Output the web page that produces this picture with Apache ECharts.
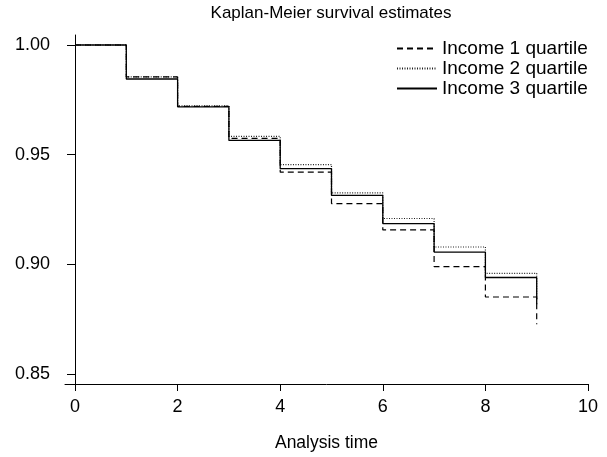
<!DOCTYPE html>
<html>
<head>
<meta charset="utf-8">
<script src="https://cdn.jsdelivr.net/npm/echarts@6/dist/echarts.min.js"></script>
<style>
  html, body { margin: 0; padding: 0; background: #fff; }
  #main { width: 607px; height: 457px; }
</style>
</head>
<body>
<div id="main"></div>
<script>
// analysis time (years) - each value holds from this time to the next
var times = [0, 1, 2, 3, 4, 5, 6, 7, 8, 9];
// survival estimates
var income1 = [1.000, 0.9855, 0.9720, 0.9574, 0.9420, 0.9277, 0.9157, 0.8990, 0.8851, 0.8727];
var income2 = [1.000, 0.9855, 0.9722, 0.9583, 0.9455, 0.9326, 0.9209, 0.9079, 0.8959, 0.8835];
var income3 = [1.000, 0.9845, 0.9718, 0.9565, 0.9436, 0.9314, 0.9186, 0.9056, 0.8940, 0.8818];
var seriesNames = ['Income 1 quartile', 'Income 2 quartile', 'Income 3 quartile'];
var xTicks = [0, 2, 4, 6, 8, 10];
var yTicks = [0.85, 0.90, 0.95, 1.00];

function pairs(vals) {
    var out = [];
    for (var i = 0; i < times.length; i++) {
        out.push([times[i], vals[i]]);
    }
    return out;
}

var font = 'Liberation Sans, Arial, sans-serif';
var chart = echarts.init(document.getElementById('main'));

var option = {
    animation: false,
    backgroundColor: '#fff',
    title: {
        text: 'Kaplan-Meier survival estimates',
        left: 326,
        textAlign: 'center',
        top: 0,
        textStyle: { fontFamily: font, fontSize: 17, fontWeight: 'normal', color: '#000' }
    },
    legend: {
        orient: 'vertical',
        left: 391,
        top: 34,
        itemWidth: 40,
        itemHeight: 10,
        itemGap: 1,
        itemStyle: { opacity: 0 },
        textStyle: { fontFamily: font, fontSize: 19, lineHeight: 19, color: '#000' },
        data: seriesNames
    },
    grid: { left: 65, right: 19, top: 35, bottom: 72 },
    xAxis: {
        type: 'value',
        min: -0.195,
        max: 10,
        name: 'Analysis time',
        nameLocation: 'middle',
        nameGap: 50,
        nameTextStyle: { fontFamily: font, fontSize: 17.5, color: '#000' },
        splitLine: { show: false },
        axisLine: { lineStyle: { color: '#000', width: 1 } },
        axisTick: { customValues: xTicks, length: 7, lineStyle: { color: '#000' } },
        axisLabel: { customValues: xTicks, margin: 14, fontFamily: font, fontSize: 18, color: '#000' }
    },
    yAxis: {
        type: 'value',
        min: 0.84545,
        max: 1.00455,
        splitLine: { show: false },
        axisLine: { show: true, lineStyle: { color: '#000', width: 1 } },
        axisTick: { show: true, customValues: yTicks, length: 8, lineStyle: { color: '#000' } },
        axisLabel: {
            customValues: yTicks, margin: 15, fontFamily: font, fontSize: 18, color: '#000',
            formatter: function (v) { return v.toFixed(2); }
        }
    },
    series: [{
        name: seriesNames[0],
        type: 'line',
        step: 'end',
        symbol: 'none',
        data: pairs(income1),
        lineStyle: { color: '#000', width: 1.2, type: [6, 4] },
        itemStyle: { color: '#000' },
        z: 3
    }, {
        name: seriesNames[1],
        type: 'line',
        step: 'end',
        symbol: 'none',
        data: pairs(income2),
        lineStyle: { color: '#222', width: 1.2, type: [1, 1.5] },
        itemStyle: { color: '#222' },
        z: 2
    }, {
        name: seriesNames[2],
        type: 'line',
        step: 'end',
        symbol: 'none',
        data: pairs(income3),
        lineStyle: { color: '#000', width: 1.3, type: 'solid' },
        itemStyle: { color: '#000' },
        z: 4
    }]
};

chart.setOption(option);
</script>
</body>
</html>
